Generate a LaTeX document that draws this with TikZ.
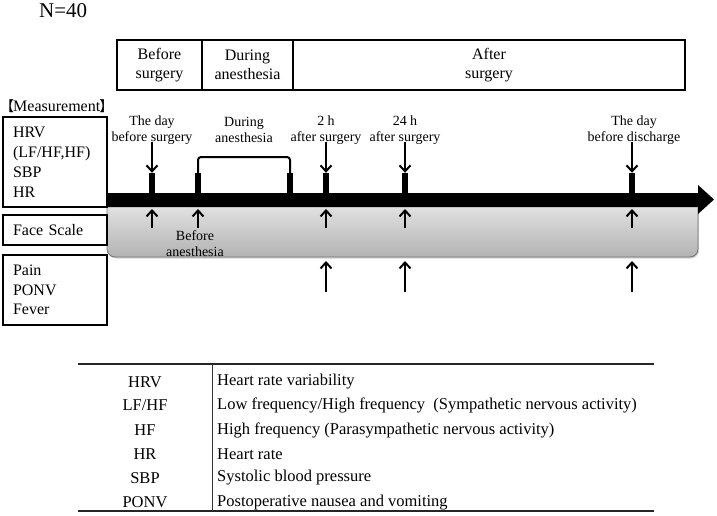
\documentclass[tikz,border=0pt]{standalone}
\usepackage{fontspec}
\setmainfont{Liberation Serif}
\newfontfamily\cjkfont{Noto Sans CJK SC}
\usetikzlibrary{arrows.meta,shadows}
\begin{document}
\begin{tikzpicture}[x=1pt,y=-1pt,
  phase/.style={draw,line width=2pt,inner sep=0,align=center,
    font=\fontsize{16}{19}\selectfont},
  mbox/.style={draw,line width=2.4pt,minimum width=104pt,text width=84pt,
    inner xsep=10pt,inner ysep=0pt,align=left,font=\fontsize{16}{20}\selectfont},
  lbl/.style={inner sep=0,align=center,font=\fontsize{14}{16}\selectfont},
  tickmark/.style={fill=black,inner sep=0,minimum width=6pt,minimum height=20pt},
  arr/.style={line width=2.1pt,-{Straight Barb[length=6pt,width=11pt,line width=2pt]}},
  tcell/.style={inner sep=0,font=\fontsize{16.5}{19}\selectfont},
  trule/.style={line width=1.6pt,draw=black!85}
]
\useasboundingbox (0,0) rectangle (717,516);

% title
\node[anchor=west,inner sep=0,font=\fontsize{21}{24}\selectfont] (n) at (39,11) {N=40};

% phase boxes
\node[phase,minimum width=85pt,minimum height=50pt] (p1) at (159.5,65) {Before\\surgery};
\node[phase,minimum width=91pt,minimum height=50pt] (p2) at (247.5,65) {During\\anesthesia};
\node[phase,minimum width=392pt,minimum height=50pt] (p3) at (489,65) {After\\surgery};

% measurement heading
\node[anchor=west,inner sep=0,font=\fontsize{16}{18}\selectfont] (meas) at (0,106)
  {{\cjkfont\fontsize{14}{18}\selectfont 【}\kern-1pt Measurement\kern-1pt{\cjkfont\fontsize{14}{18}\selectfont 】}};

% gray face-scale band
\path[rounded corners=8pt,top color=black!8,bottom color=black!30,draw=black!55,line width=0.8pt,
  drop shadow={shadow xshift=1pt,shadow yshift=-1.5pt,opacity=0.35}]
  (107,196) rectangle (698,257);

% timeline bar
\fill[black] (107,193) -- (698,193) -- (698,185) -- (714,199.5) -- (698,214) -- (698,207) -- (107,207) -- cycle;

% left boxes
\node[mbox,minimum height=90pt] (b1) at (55,162) {HRV\\(LF/HF,HF)\\SBP\\HR};
\node[mbox,minimum height=30pt] (b2) at (55,230) {Face Scale};
\node[mbox,minimum height=70pt,font=\fontsize{16}{19.5}\selectfont] (b3) at (55,290) {Pain\\PONV\\Fever};

% tick marks
\node[tickmark] (t1) at (152,183) {};
\node[tickmark] (t2) at (198,183) {};
\node[tickmark] (t3) at (290,183) {};
\node[tickmark] (t4) at (326,183) {};
\node[tickmark] (t5) at (405,183) {};
\node[tickmark] (t6) at (632,183) {};

% labels above
\node[lbl] (l1) at (152,130) {The day\\before surgery};
\node[lbl] (l2) at (244,130) {During\\anesthesia};
\node[lbl] (l4) at (326,130) {2 h\\after surgery};
\node[lbl] (l5) at (405,130) {24 h\\after surgery};
\node[lbl] (l6) at (634,130) {The day\\before discharge};
\node[lbl] (l7) at (195,243.5) {Before\\anesthesia};

% bracket for during anesthesia
\draw[line width=2pt,rounded corners=3pt] (t2.north) -- (198,157) -- (290,157) -- (t3.north);

% down arrows
\draw[arr] ([yshift=3pt]t1.north |- l1.south) -- (t1.north);
\draw[arr] ([yshift=3pt]t4.north |- l4.south) -- (t4.north);
\draw[arr] ([yshift=3pt]t5.north |- l5.south) -- (t5.north);
\draw[arr] ([yshift=3pt]t6.north |- l6.south) -- (t6.north);

% up arrows inside band
\foreach \x/\n in {152/a,198/b,326/c,405/d,632/e}{
  \coordinate (u\n0) at (\x,228);
  \coordinate (u\n1) at (\x,209);
  \draw[arr] (u\n0) -- (u\n1);
}
% up arrows below band
\foreach \x/\n in {326/c,405/d,632/e}{
  \coordinate (w\n0) at (\x,292);
  \coordinate (w\n1) at (\x,261);
  \draw[arr] (w\n0) -- (w\n1);
}

% abbreviation table
\coordinate (tl) at (78,364);
\coordinate (tr) at (654,364);
\coordinate (bl) at (78,511);
\coordinate (br) at (654,511);
\coordinate (dt) at (212,364);
\coordinate (db) at (212,511);
\draw[trule] (tl) -- (tr);
\draw[trule,line width=1.9pt] (bl) -- (br);
\draw[line width=1pt,draw=black!80] (dt) -- (db);

\foreach \y/\a/\b in {
  382/HRV/Heart rate variability,
  405.5/LF\slash HF/Low frequency\slash High frequency~ (Sympathetic nervous activity),
  430/HF/High frequency (Parasympathetic nervous activity),
  454/HR/Heart rate,
  478/SBP/Systolic blood pressure,
  502.5/PONV/Postoperative nausea and vomiting}{
  \node[tcell] at (145,\y) {\a};
  \node[tcell,anchor=west] at (217,\y) {\b};
}
\end{tikzpicture}
\end{document}
